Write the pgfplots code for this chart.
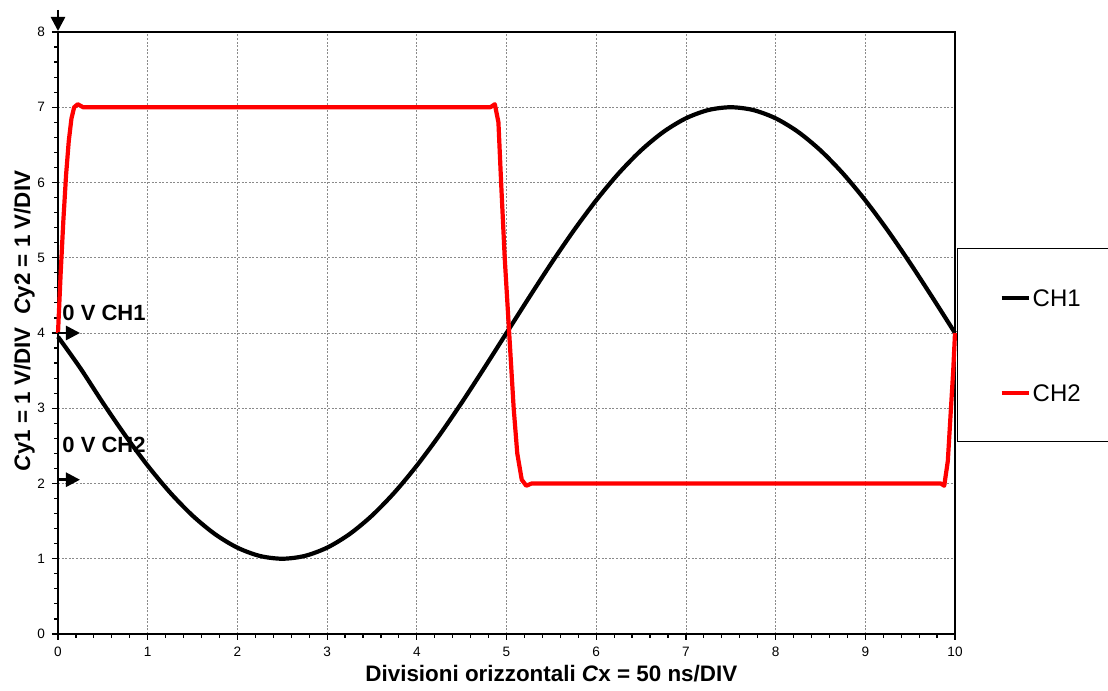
\documentclass[border=0pt]{standalone}
\usepackage{fontspec}
\setmainfont{Liberation Sans}
\usepackage{pgfplots}
\pgfplotsset{compat=1.18}
\usetikzlibrary{calc,arrows.meta}
\definecolor{GridGray}{HTML}{8A8A8A}

\begin{document}
\begin{tikzpicture}
\begin{axis}[width=448.5pt,height=301pt,scale only axis,
  xmin=0,xmax=10,ymin=0,ymax=8,
  xtick={0,...,10},ytick={0,...,8},
  minor tick num=4,
  tick align=outside,tick pos=left,
  major tick length=3pt,minor tick length=1.8pt,
  every tick/.style={black,line width=0.6pt},
  grid=major,
  major grid style={GridGray,line width=0.4pt,dash pattern=on 1pt off 0.8pt},
  axis line style={black,line width=1pt},
  ticklabel style={font=\fontsize{6.8}{8}\selectfont},
  /pgf/number format/assume math mode=true,
  clip=false,
  xlabel={Divisioni orizzontali \textit{C}x = 50 ns/DIV},
  ylabel={\textit{C}y1 = 1 V/DIV\ \ \textit{C}y2 = 1 V/DIV},
  label style={font=\bfseries\fontsize{11.2}{13}\selectfont,inner sep=0pt},
  xlabel style={at={(axis description cs:0.55,-0.052)},anchor=north},
  ylabel style={at={(axis description cs:-0.031,0.52)},anchor=base},
  legend cell align=left,
  legend image code/.code={\draw[#1] (0pt,0pt) -- (13.5pt,0pt);},
  legend style={at={(axis description cs:1.0022,0.641)},anchor=north west,
    draw=black,line width=0.5pt,font=\fontsize{12}{14}\selectfont,
    inner xsep=21pt,inner ysep=20pt,row sep=38.5pt,column sep=1pt,
    nodes={inner sep=0pt,text height=9pt,text depth=0pt}}]

\addplot[black,line width=2.1pt,smooth] coordinates {
(0,3.95) (0.25,3.531) (0.5,3.073) (0.75,2.638) (1.0,2.237) (1.25,1.879)
(1.5,1.573) (1.75,1.327) (2.0,1.147) (2.25,1.037) (2.5,1.000) (2.75,1.037)
(3.0,1.147) (3.25,1.327) (3.5,1.573) (3.75,1.879) (4.0,2.237) (4.25,2.638)
(4.5,3.073) (4.75,3.531) (5.0,4.0) (5.25,4.469) (5.5,4.927) (5.75,5.362)
(6.0,5.763) (6.25,6.121) (6.5,6.427) (6.75,6.673) (7.0,6.853) (7.25,6.963)
(7.5,7.0) (7.75,6.963) (8.0,6.853) (8.25,6.673) (8.5,6.427) (8.75,6.121)
(9.0,5.763) (9.25,5.362) (9.5,4.927) (9.75,4.469) (10,4.0)};
\addlegendentry{CH1}

\addplot[red,line width=2.1pt,line join=round] coordinates {
(0,4.0) (0.03,4.8) (0.06,5.5) (0.09,6.1) (0.12,6.55) (0.15,6.85) (0.18,7.0)
(0.22,7.04) (0.28,7.0) (1,7.0) (2,7.0) (3,7.0) (4,7.0) (4.82,7.0)
(4.87,7.04) (4.91,6.8) (4.94,6.0) (4.98,5.0) (5.03,4.0) (5.08,3.0)
(5.12,2.4) (5.17,2.05) (5.22,1.97) (5.28,2.0) (6,2.0) (7,2.0) (8,2.0)
(9,2.0) (9.84,2.0) (9.88,1.97) (9.92,2.3) (9.95,2.9) (9.98,3.5) (10,4.0)};
\addlegendentry{CH2}

\draw[black,line width=1.3pt,-{Triangle[length=7pt,width=7pt]}]
  (axis cs:0,8) ++(0,11pt) -- ++(0,-10.5pt);
\draw[black,line width=1.3pt,-{Triangle[length=7pt,width=7pt]}]
  (axis cs:0,4) -- ++(11pt,0);
\draw[black,line width=1.3pt,-{Triangle[length=7pt,width=7pt]}]
  (axis cs:0,2.05) -- ++(11pt,0);
\node[anchor=west,inner sep=0pt,font=\bfseries\fontsize{11}{13}\selectfont]
  at (axis cs:0.045,4.27) {0 V CH1};
\node[anchor=west,inner sep=0pt,font=\bfseries\fontsize{11}{13}\selectfont]
  at (axis cs:0.045,2.51) {0 V CH2};

\coordinate (SW) at (rel axis cs:0,0);
\coordinate (NE) at (rel axis cs:1,1);
\end{axis}
\pgfresetboundingbox
\path[use as bounding box] ($(SW)+(-29pt,-28.5pt)$) rectangle ($(NE)+(76.5pt,16pt)$);
\end{tikzpicture}
\end{document}
